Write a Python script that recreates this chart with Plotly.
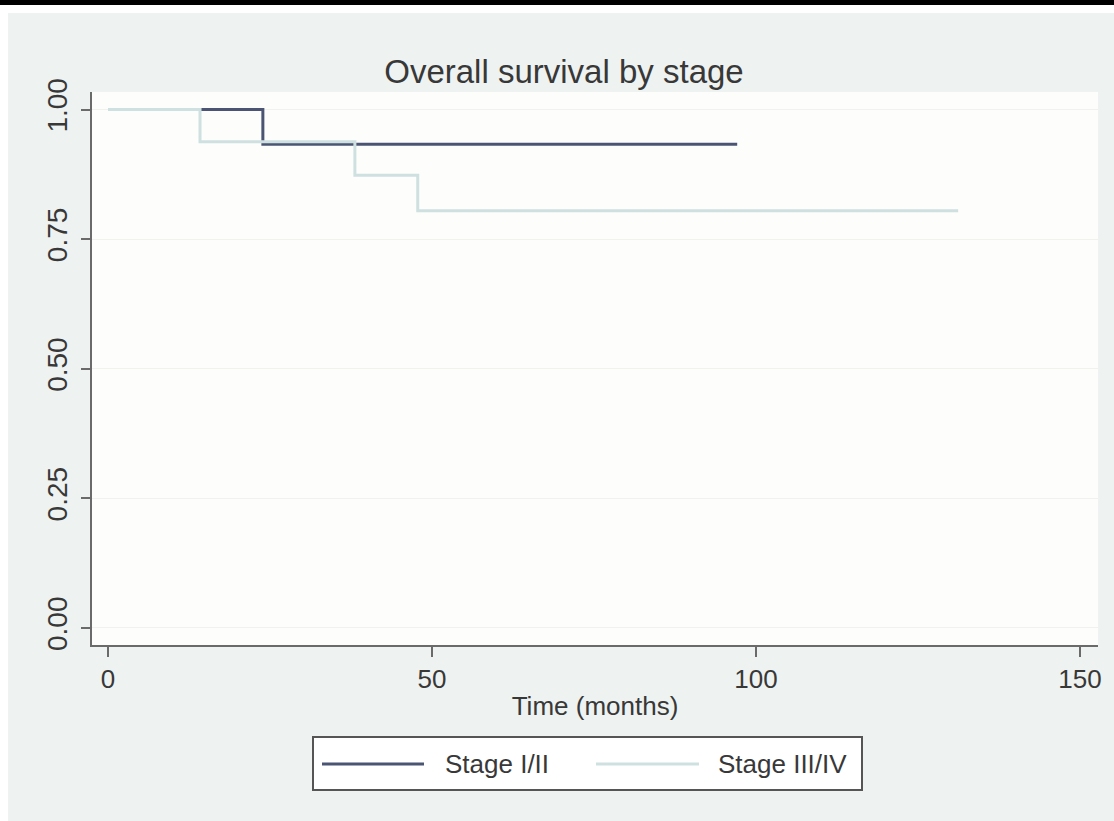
import plotly.graph_objects as go

# Kaplan-Meier step data
stage12_time = [0, 23.9, 97.1]
stage12_surv = [1.0, 0.933, 0.933]
stage34_time = [0, 14.2, 38.1, 47.8, 131.2]
stage34_surv = [1.0, 0.938, 0.873, 0.805, 0.805]

series_names = ["Stage I/II", "Stage III/IV"]
x_ticks = [0, 50, 100, 150]
y_ticks = [0.0, 0.25, 0.5, 0.75, 1.0]
y_tick_text = ["0.00", "0.25", "0.50", "0.75", "1.00"]

DARK = "#4b5573"
LIGHT = "#cfe0e0"
GREY_BG = "#eef2f1"
AXIS = "#6a6a6a"
TEXT = "#383838"
FONT = "Liberation Sans, Arial, sans-serif"

fig = go.Figure()
fig.add_trace(go.Scatter(x=stage12_time, y=stage12_surv, mode="lines",
                         line=dict(color=DARK, width=3, shape="hv"),
                         name=series_names[0], showlegend=False))
fig.add_trace(go.Scatter(x=stage34_time, y=stage34_surv, mode="lines",
                         line=dict(color=LIGHT, width=3, shape="hv"),
                         name=series_names[1], showlegend=False))

W, H = 1114, 821
L, R, T, B = 92, 16, 92, 176
pw, ph = W - L - R, H - T - B

def px(x):
    return (x - L) / pw

def py(y):
    return (H - B - y) / ph

shapes = [
    # white margin strips outside the grey panel
    dict(type="rect", xref="paper", yref="paper", x0=px(0), x1=px(8), y0=py(0), y1=py(H),
         fillcolor="white", line=dict(width=0), layer="below"),
    dict(type="rect", xref="paper", yref="paper", x0=px(0), x1=px(W), y0=py(0), y1=py(13),
         fillcolor="white", line=dict(width=0), layer="below"),
    # black rule at top
    dict(type="line", xref="paper", yref="paper", x0=px(0), x1=px(W), y0=py(2.5), y1=py(2.5),
         line=dict(color="black", width=5)),
    # legend box
    dict(type="rect", xref="paper", yref="paper", x0=px(313), x1=px(862), y0=py(737), y1=py(790),
         fillcolor="white", line=dict(color="#555555", width=2)),
    dict(type="line", xref="paper", yref="paper", x0=px(322), x1=px(424), y0=py(764), y1=py(764),
         line=dict(color=DARK, width=3)),
    dict(type="line", xref="paper", yref="paper", x0=px(596), x1=px(699), y0=py(764), y1=py(764),
         line=dict(color=LIGHT, width=3)),
]

annotations = [
    dict(text=series_names[0], xref="paper", yref="paper", x=px(443), y=py(764),
         xanchor="left", yanchor="middle", showarrow=False,
         font=dict(family=FONT, size=26, color=TEXT)),
    dict(text=series_names[1], xref="paper", yref="paper", x=px(716), y=py(764),
         xanchor="left", yanchor="middle", showarrow=False,
         font=dict(family=FONT, size=26, color=TEXT)),
]

fig.update_layout(
    width=W, height=H,
    margin=dict(l=L, r=R, t=T, b=B),
    paper_bgcolor=GREY_BG,
    plot_bgcolor="#fdfdfb",
    title=dict(text="Overall survival by stage", x=564 / W, xanchor="center",
               xref="container", y=1 - 71 / H, yref="container", yanchor="middle",
               font=dict(family=FONT, size=33, color=TEXT)),
    shapes=shapes,
    annotations=annotations,
    showlegend=False,
    font=dict(family=FONT, color=TEXT),
)

fig.update_xaxes(
    range=[-2.47, 152.78], tickvals=x_ticks, ticktext=[str(v) for v in x_ticks],
    showgrid=False, zeroline=False,
    showline=True, linecolor=AXIS, linewidth=2,
    ticks="outside", ticklen=10, tickwidth=2, tickcolor=AXIS,
    tickfont=dict(family=FONT, size=26, color=TEXT),
    ticklabelstandoff=0,
    title=dict(text="Time (months)", font=dict(family=FONT, size=26, color=TEXT), standoff=4),
    automargin=False,
)
fig.update_yaxes(
    range=[-0.0328, 1.0338], tickvals=y_ticks, ticktext=y_tick_text,
    tickangle=-90,
    showgrid=True, gridcolor="#f1f1ee", gridwidth=1, zeroline=False,
    showline=True, linecolor=AXIS, linewidth=2,
    ticks="outside", ticklen=9, tickwidth=2, tickcolor=AXIS,
    tickfont=dict(family=FONT, size=28, color=TEXT),
    ticklabelstandoff=3,
    automargin=False,
)

fig.write_html("out.html")
